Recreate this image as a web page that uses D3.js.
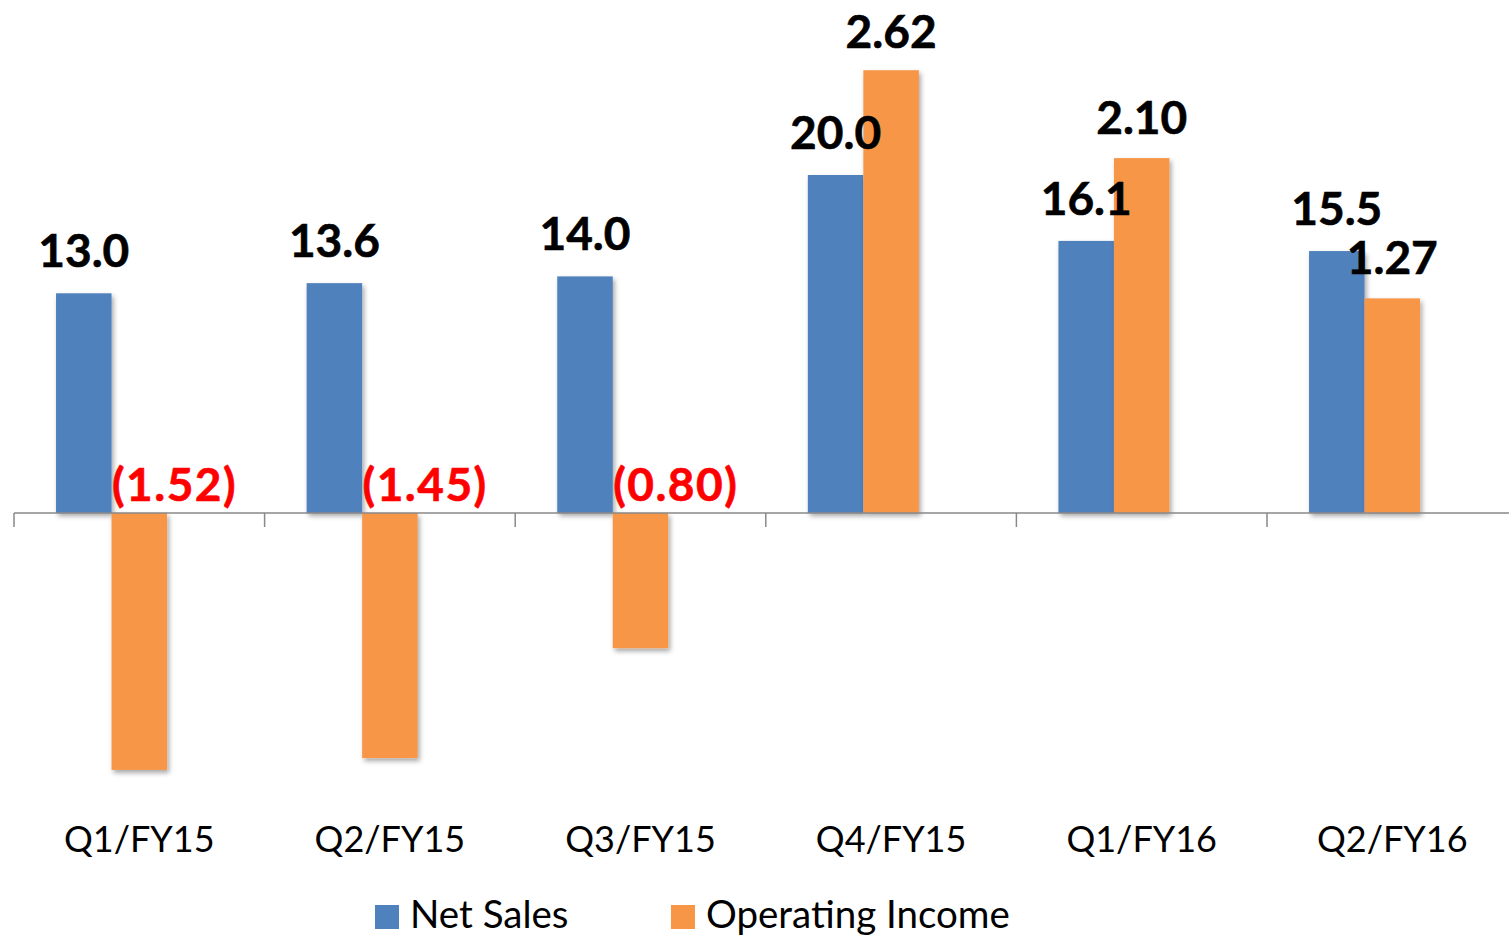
<!DOCTYPE html>
<html>
<head>
<meta charset="utf-8">
<script src="https://cdn.jsdelivr.net/npm/d3@7"></script>
<style>
  html, body { margin: 0; padding: 0; background: #fff; }
  svg { display: block; }
  text { font-family: Lato, "Open Sans", sans-serif; }
</style>
</head>
<body>
<svg id="chart" width="1509" height="937"></svg>
<script>
const categories = ["Q1/FY15", "Q2/FY15", "Q3/FY15", "Q4/FY15", "Q1/FY16", "Q2/FY16"];
const netSales = [13.0, 13.6, 14.0, 20.0, 16.1, 15.5];
const operatingIncome = [-1.52, -1.45, -0.80, 2.62, 2.10, 1.27];
const seriesNames = ["Net Sales", "Operating Income"];
const seriesColors = ["#4F81BD", "#F79646"];
const netSalesDomain = [-20, 30];
const opIncomeDomain = [-2, 3];

const svg = d3.select("#chart");
const plot = { left: 14, right: 14 + 6 * 250.6, top: 6, bottom: 851 };

const defs = svg.append("defs");
const f = defs.append("filter").attr("id", "shadow")
  .attr("x", "-20%").attr("y", "-20%").attr("width", "150%").attr("height", "150%");
f.append("feDropShadow").attr("dx", 2).attr("dy", 3).attr("stdDeviation", 2.5)
  .attr("flood-color", "#000").attr("flood-opacity", 0.35);

const x = d3.scaleBand().domain(categories).range([plot.left, plot.right]).paddingInner(0).paddingOuter(0);
const xSub = d3.scaleBand().domain([...seriesNames, "_spare"]).range([0, x.bandwidth()])
  .paddingInner(0).paddingOuter(0.7575);

const yNS = d3.scaleLinear().domain(netSalesDomain).range([plot.bottom, plot.top]);
const yOI = d3.scaleLinear().domain(opIncomeDomain).range([plot.bottom, plot.top]);
const zeroY = yNS(0);

const rows = categories.map((c, i) => ({ c, ns: netSales[i], oi: operatingIncome[i] }));
const g = svg.append("g");

g.selectAll("rect.ns").data(rows).join("rect")
  .attr("class", "ns")
  .attr("x", d => x(d.c) + xSub("Net Sales"))
  .attr("width", xSub.bandwidth())
  .attr("y", d => Math.min(yNS(d.ns), zeroY))
  .attr("height", d => Math.abs(yNS(d.ns) - zeroY))
  .attr("fill", seriesColors[0])
  .attr("filter", "url(#shadow)");

g.selectAll("rect.oi").data(rows).join("rect")
  .attr("class", "oi")
  .attr("x", d => x(d.c) + xSub("Operating Income"))
  .attr("width", xSub.bandwidth())
  .attr("y", d => Math.min(yOI(d.oi), zeroY))
  .attr("height", d => Math.abs(yOI(d.oi) - zeroY))
  .attr("fill", seriesColors[1])
  .attr("filter", "url(#shadow)");

// axis line at zero
const axisG = svg.append("g").attr("transform", `translate(0,${zeroY})`);
axisG.call(d3.axisBottom(x).tickSize(0).tickFormat(""));
axisG.select(".domain").attr("stroke", "#898989").attr("stroke-width", 1.5)
  .attr("d", `M${plot.left},0H${plot.right}`);
const tickPositions = categories.map(c => x(c)).concat([plot.right]);
axisG.selectAll("line.tk").data(tickPositions).join("line")
  .attr("class", "tk")
  .attr("x1", d => d).attr("x2", d => d)
  .attr("y1", 0).attr("y2", 14)
  .attr("stroke", "#898989").attr("stroke-width", 1.5);

// category labels
svg.append("g").selectAll("text").data(categories).join("text")
  .attr("x", d => x(d) + x.bandwidth() / 2)
  .attr("y", 852)
  .attr("text-anchor", "middle")
  .attr("font-size", 36)
  .attr("fill", "#000")
  .text(d => d);

// value labels
const fmtNeg = v => "(" + Math.abs(v).toFixed(2) + ")";
g.selectAll("text.nsl").data(rows).join("text")
  .attr("class", "nsl")
  .attr("x", d => x(d.c) + xSub("Net Sales") + xSub.bandwidth() / 2)
  .attr("y", d => yNS(d.ns) - 26)
  .attr("text-anchor", "middle")
  .attr("font-size", 46).attr("font-weight", "bold").attr("fill", "#000")
  .attr("stroke", "#000").attr("stroke-width", 0.6)
  .text(d => d.ns.toFixed(1));

g.selectAll("text.oil").data(rows).join("text")
  .attr("class", "oil")
  .attr("x", d => d.oi < 0 ? x(d.c) + xSub("Operating Income") + 63
                           : x(d.c) + xSub("Operating Income") + xSub.bandwidth() / 2)
  .attr("y", d => d.oi < 0 ? zeroY - 12 : Math.max(yOI(d.oi) - 24, 48))
  .attr("text-anchor", "middle")
  .attr("letter-spacing", d => d.oi < 0 ? 1.5 : 0)
  .attr("font-size", 46).attr("font-weight", "bold")
  .attr("fill", d => d.oi < 0 ? "#FF0000" : "#000")
  .attr("stroke", d => d.oi < 0 ? "#FF0000" : "#000").attr("stroke-width", 0.6)
  .text(d => d.oi < 0 ? fmtNeg(d.oi) : d.oi.toFixed(2));

// legend
const legendItems = [
  { name: seriesNames[0], color: seriesColors[0], x: 375 },
  { name: seriesNames[1], color: seriesColors[1], x: 671 }
];
const lg = svg.append("g").selectAll("g").data(legendItems).join("g")
  .attr("transform", d => `translate(${d.x},0)`);
lg.append("rect").attr("x", 0).attr("y", 905).attr("width", 24).attr("height", 24)
  .attr("fill", d => d.color);
lg.append("text").attr("x", 35).attr("y", 928).attr("font-size", 38.5).attr("fill", "#000")
  .text(d => d.name);
</script>
</body>
</html>
